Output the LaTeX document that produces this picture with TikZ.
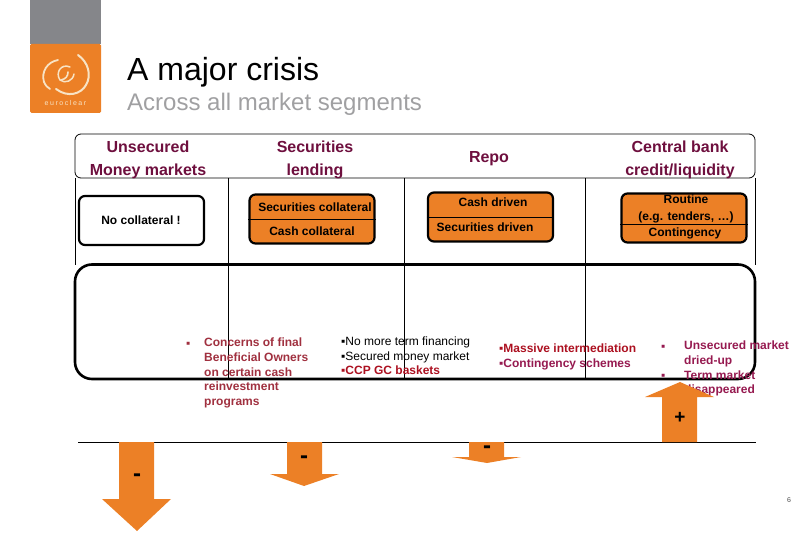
\documentclass[tikz,border=0pt]{standalone}
\usepackage{fontspec}
\setmainfont{Liberation Sans}
\definecolor{logogrey}{HTML}{85868A}
\definecolor{brandorange}{HTML}{EC8026}
\definecolor{logocream}{HTML}{F8E3C4}
\definecolor{headred}{HTML}{6E0F3E}
\definecolor{subgrey}{HTML}{A0A0A2}
\definecolor{concernred}{HTML}{A0303F}
\definecolor{ccpred}{HTML}{AC1020}
\definecolor{plumred}{HTML}{961A50}
\begin{document}
\begin{tikzpicture}[
    x=1pt,y=-1pt,
    segbox/.style={draw=black,line width=2.2pt,rounded corners=6pt,
                   minimum width=125pt,minimum height=49pt,inner sep=0pt},
    orangebox/.style={segbox,fill=brandorange},
    heading/.style={text=headred,align=center,inner sep=0pt,
                    font=\fontsize{16}{23}\selectfont\bfseries},
    boxtext/.style={inner sep=0pt,align=center,
                    font=\fontsize{12}{17}\selectfont\bfseries},
    bullettext/.style={anchor=north west,inner sep=0pt,align=left,
                       execute at begin node=\rule{0pt}{9.5pt},
                       font=\fontsize{12}{14.7}\selectfont\bfseries},
    signtext/.style={inner sep=0pt,font=\fontsize{24}{24}\selectfont\bfseries},
    grid/.style={draw=black,line width=0.8pt}
  ]
    \useasboundingbox (0,0) rectangle (810,540);

    % logo
    \fill[logogrey] (30,0) rectangle (101,44);
    \fill[brandorange,rounded corners=1.5pt] (30,44) rectangle (101,113);
    \draw[logocream,line width=1.8pt,line cap=round]
      (58,60) .. controls (47,62) and (41,72) .. (44,82)
              .. controls (46,86) and (47,87) .. (50,89);
    \draw[logocream,line width=2pt,line cap=round]
      (78,55) .. controls (88,62) and (92,75) .. (86,85)
              .. controls (81,94) and (68,98) .. (56,89);
    \draw[logocream,line width=1.5pt,line cap=round]
      (70,67) .. controls (61,63) and (55,73) .. (60,80)
              .. controls (65,84) and (73,81) .. (74,74);
    \draw[logocream,line width=1.6pt,line cap=round]
      (61,80) .. controls (66,79) and (68,76) .. (68,72);
    \node[text=logocream,inner sep=0pt,font=\fontsize{7}{7}\selectfont]
      (logotext) at (65.5,103) {\addfontfeature{LetterSpace=22}euroclear};

    % titles
    \node[anchor=base west,inner sep=0pt,font=\fontsize{32}{32}\selectfont]
      (title) at (127,80.5) {A major crisis};
    \node[anchor=base west,inner sep=0pt,text=subgrey,font=\fontsize{24}{24}\selectfont]
      (subtitle) at (127,111) {Across all market segments};

    % frame
    \draw[grid,rounded corners=6pt] (75,178) -- (75,134) -- (755,134) -- (755,178) -- cycle;
    \draw[grid] (75,178) -- (75,265);
    \draw[grid] (228,178) -- (228,378);
    \draw[grid] (404,178) -- (404,378);
    \draw[grid] (585,178) -- (585,378);
    \draw[grid] (755,178) -- (755,265);
    \draw[black,line width=2.6pt,rounded corners=17pt] (75,264.5) rectangle (755,379);
    \draw[grid] (78,442.5) -- (756,442.5);

    % headings
    \node[heading] (unsecured) at (148,160) {Unsecured\\Money markets};
    \node[heading] (lending) at (315,160) {Securities\\lending};
    \node[heading] (repo) at (489,158.5) {Repo};
    \node[heading] (central) at (680,160) {Central bank\\credit/liquidity};

    % boxes
    \node[segbox] (nocoll) at (141.5,220.5) {};
    \node[orangebox] (secbox) at (312,219) {};
    \node[orangebox] (repobox) at (490.5,217) {};
    \node[orangebox] (cbbox) at (684,218) {};
    \draw[grid] (secbox.west) -- (secbox.east);
    \draw[grid] (repobox.west) -- (repobox.east);
    \draw[grid] ([yshift=-6pt]cbbox.west) -- ([yshift=-6pt]cbbox.east);

    \node[boxtext] (nocolltext) at (141,220.5) {No collateral !};
    \node[boxtext] (seccoll) at (315,207.5) {Securities collateral};
    \node[boxtext] (cashcoll) at (312,231.5) {Cash collateral};
    \node[boxtext] (cashdriven) at (493,202.5) {Cash driven};
    \node[boxtext] (secdriven) at (485,227) {Securities driven};
    \node[boxtext] (routine) at (686,208.5) {Routine\\(e.g. tenders, …)};
    \node[boxtext] (contingency) at (685,233) {Contingency};

    % bullet lists
    \node[bullettext,text=concernred] (bulleta) at (186,338) {▪};
    \node[bullettext,text=concernred] (concerns) at (204,338)
      {Concerns of final\\Beneficial Owners\\on certain cash\\reinvestment\\programs};
    \node[bullettext,font=\fontsize{12}{14.7}\selectfont] (nofin) at (341,337)
      {▪No more term financing\\▪Secured money market};
    \node[bullettext,text=ccpred] (ccp) at (341,365) {▪CCP GC baskets};
    \node[bullettext,text=ccpred] (massive) at (499,343) {▪Massive intermediation};
    \node[bullettext,text=plumred] (schemes) at (499,358) {▪Contingency schemes};
    \node[bullettext,text=plumred] (bulletb) at (661,341) {▪};
    \node[bullettext,text=plumred] (bulletc) at (661,370) {▪};
    \node[bullettext,text=plumred] (dried) at (684,341)
      {Unsecured market\\dried-up\\Term market\\disappeared};

    % arrows
    \fill[brandorange] (119,442) -- (154,442) -- (154,499) -- (171,499)
      -- (137,531) -- (102,499) -- (119,499) -- cycle;
    \fill[brandorange] (287,442) -- (322,442) -- (322,474) -- (339,474)
      -- (304,486) -- (270,474) -- (287,474) -- cycle;
    \fill[brandorange] (469,442) -- (504,442) -- (504,457) -- (521,457)
      -- (487,463) -- (452,457) -- (469,457) -- cycle;
    \fill[brandorange] (662,442) -- (697,442) -- (697,397) -- (714,397)
      -- (680,382) -- (645,397) -- (662,397) -- cycle;
    \node[signtext] (signa) at (137,478) {-};
    \node[signtext] (signb) at (304,460) {-};
    \node[signtext] (signc) at (487,450) {-};
    \node[signtext,font=\fontsize{19}{19}\selectfont\bfseries] (signd) at (680,418) {+};

    \node[inner sep=0pt,text=black!70,font=\fontsize{7}{7}\selectfont] (pageno) at (789,500) {6};
  \end{tikzpicture}
\end{document}
